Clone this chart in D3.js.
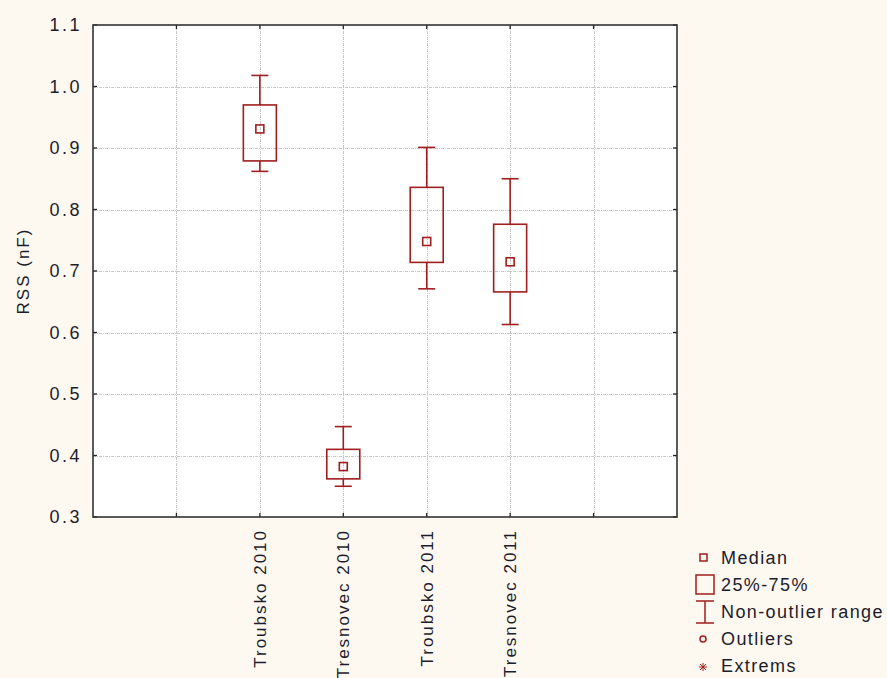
<!DOCTYPE html>
<html>
<head>
<meta charset="utf-8">
<script src="https://cdn.jsdelivr.net/npm/d3@7"></script>
<style>
  html, body { margin: 0; padding: 0; background: #fdf8f0; }
  svg { display: block; }
  text { font-family: "Liberation Sans", Arial, sans-serif; fill: #1c1c2c; }
</style>
</head>
<body>
<script>
// Box-plot statistics per site/year (capacitance, nF)
const categories = ["Troubsko 2010", "Tresnovec 2010", "Troubsko 2011", "Tresnovec 2011"];
const whiskerLow  = [0.862, 0.350, 0.671, 0.613];
const q1          = [0.879, 0.362, 0.714, 0.666];
const median      = [0.931, 0.382, 0.748, 0.715];
const q3          = [0.970, 0.410, 0.836, 0.776];
const whiskerHigh = [1.018, 0.447, 0.901, 0.850];

const yTicks = [0.3, 0.4, 0.5, 0.6, 0.7, 0.8, 0.9, 1.0, 1.1];
const legendLabels = ["Median", "25%-75%", "Non-outlier range", "Outliers", "Extrems"];

const W = 887, H = 678;
const margin = { left: 93, right: 210, top: 25, bottom: 161 };
const slotCount = 7;      // horizontal slots across the frame
const firstSlot = 2;      // slot index of the first category
const red = "#a01e1e";

const svg = d3.select("body").append("svg").attr("width", W).attr("height", H);

const x = d3.scaleLinear().domain([0, slotCount]).range([margin.left, W - margin.right]);
const y = d3.scaleLinear().domain([0.3, 1.1]).range([H - margin.bottom, margin.top]);

const x0 = x.range()[0], x1 = x.range()[1], y0 = y.range()[0], y1 = y.range()[1];

// plot area
svg.append("rect").attr("x", x0).attr("y", y1).attr("width", x1 - x0).attr("height", y0 - y1).attr("fill", "#ffffff");

// grid
const slotTicks = d3.range(1, slotCount);
const grid = svg.append("g").attr("stroke", "#c8c8c8").attr("stroke-width", 1).attr("stroke-dasharray", "3,1,1,1");
grid.selectAll(".gx").data(slotTicks).join("line")
  .attr("x1", d => Math.round(x(d)) + 0.5).attr("x2", d => Math.round(x(d)) + 0.5)
  .attr("y1", y1).attr("y2", y0);
grid.selectAll(".gy").data(yTicks.slice(1, -1)).join("line")
  .attr("x1", x0).attr("x2", x1)
  .attr("y1", d => Math.round(y(d)) + 0.5).attr("y2", d => Math.round(y(d)) + 0.5);

// inward tick marks on all four sides
const ticks = svg.append("g").attr("stroke", "#222").attr("stroke-width", 1.3);
ticks.selectAll(".tb").data(slotTicks).join("line")
  .attr("x1", d => x(d)).attr("x2", d => x(d)).attr("y1", y0).attr("y2", y0 - 4);
ticks.selectAll(".tt").data(slotTicks).join("line")
  .attr("x1", d => x(d)).attr("x2", d => x(d)).attr("y1", y1).attr("y2", y1 + 4);
ticks.selectAll(".tl").data(yTicks).join("line")
  .attr("x1", x0).attr("x2", x0 + 4).attr("y1", d => y(d)).attr("y2", d => y(d));
ticks.selectAll(".tr").data(yTicks).join("line")
  .attr("x1", x1).attr("x2", x1 - 4).attr("y1", d => y(d)).attr("y2", d => y(d));

// frame
svg.append("rect").attr("x", x0).attr("y", y1).attr("width", x1 - x0).attr("height", y0 - y1)
  .attr("fill", "none").attr("stroke", "#333").attr("stroke-width", 1.6);

// y tick labels
svg.append("g").selectAll("text").data(yTicks).join("text")
  .attr("x", 82).attr("y", d => y(d)).attr("dy", "0.36em")
  .attr("text-anchor", "end").attr("font-size", 18).attr("letter-spacing", 2.5)
  .text(d => d3.format(".1f")(d));

// y axis title
svg.append("text")
  .attr("transform", `translate(29,271) rotate(-90)`)
  .attr("text-anchor", "middle").attr("font-size", 17).attr("letter-spacing", 2)
  .text("RSS (nF)");

// x category labels (rotated)
svg.append("g").selectAll("text").data(categories).join("text")
  .attr("transform", (d, i) => `translate(${x(firstSlot + i) + 6},${y0 + 12}) rotate(-90)`)
  .attr("text-anchor", "end").attr("font-size", 17).attr("letter-spacing", 2)
  .text(d => d);

// boxes
const boxW = 33, capW = 17, medS = 8;
const boxes = svg.append("g").attr("stroke", red).attr("stroke-width", 1.6).attr("fill", "none");
categories.forEach((c, i) => {
  const cx = x(firstSlot + i);
  const g = boxes.append("g");
  g.append("line").attr("x1", cx).attr("x2", cx).attr("y1", y(whiskerHigh[i])).attr("y2", y(q3[i]));
  g.append("line").attr("x1", cx).attr("x2", cx).attr("y1", y(q1[i])).attr("y2", y(whiskerLow[i]));
  g.append("line").attr("x1", cx - capW / 2).attr("x2", cx + capW / 2).attr("y1", y(whiskerHigh[i])).attr("y2", y(whiskerHigh[i]));
  g.append("line").attr("x1", cx - capW / 2).attr("x2", cx + capW / 2).attr("y1", y(whiskerLow[i])).attr("y2", y(whiskerLow[i]));
  g.append("rect").attr("x", cx - boxW / 2).attr("y", y(q3[i])).attr("width", boxW).attr("height", y(q1[i]) - y(q3[i]));
  g.append("rect").attr("x", cx - medS / 2).attr("y", y(median[i]) - medS / 2).attr("width", medS).attr("height", medS);
});

// legend
const lx = 705, ly0 = 558, lstep = 27;
const leg = svg.append("g");
leg.selectAll("text").data(legendLabels).join("text")
  .attr("x", 721).attr("y", (d, i) => ly0 + i * lstep).attr("dy", "0.36em")
  .attr("font-size", 18).attr("letter-spacing", 1.4)
  .text(d => d);
const ls = leg.append("g").attr("stroke", red).attr("stroke-width", 1.5).attr("fill", "none");
ls.append("rect").attr("x", lx - 5).attr("y", ly0 - 4).attr("width", 7).attr("height", 7);
ls.append("rect").attr("x", lx - 9).attr("y", ly0 + lstep - 10).attr("width", 18).attr("height", 19);
const iy = ly0 + 2 * lstep;
ls.append("line").attr("x1", lx - 9).attr("x2", lx + 9).attr("y1", iy - 11).attr("y2", iy - 11);
ls.append("line").attr("x1", lx - 9).attr("x2", lx + 9).attr("y1", iy + 11).attr("y2", iy + 11);
ls.append("line").attr("x1", lx).attr("x2", lx).attr("y1", iy - 11).attr("y2", iy + 11);
ls.append("circle").attr("cx", lx - 2).attr("cy", ly0 + 3 * lstep).attr("r", 3);
const ey = ly0 + 4 * lstep + 1, ex = lx - 2;
[[-4, 0, 4, 0], [0, -4, 0, 4], [-3, -3, 3, 3], [-3, 3, 3, -3]].forEach(s => {
  ls.append("line").attr("x1", ex + s[0]).attr("y1", ey + s[1]).attr("x2", ex + s[2]).attr("y2", ey + s[3]).attr("stroke-width", 1);
});
</script>
</body>
</html>
